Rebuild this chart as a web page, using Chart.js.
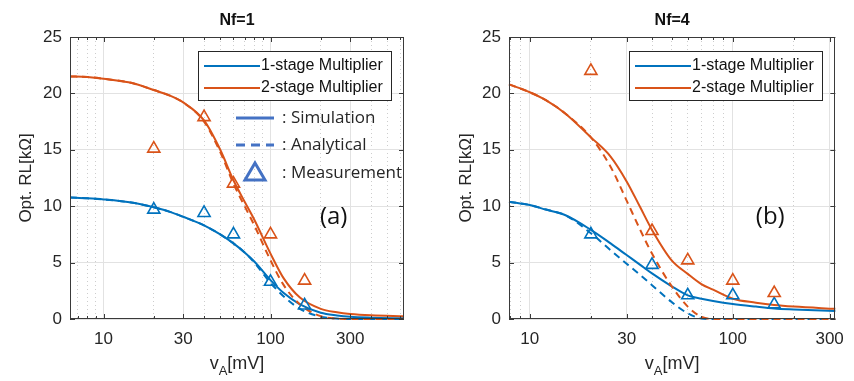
<!DOCTYPE html>
<html>
<head>
<meta charset="utf-8">
<script src="https://cdn.jsdelivr.net/npm/chart.js@4.4.1/dist/chart.umd.min.js"></script>
<style>
html, body { margin: 0; padding: 0; background: #fff; }
#wrap { display: flex; width: 854px; height: 381px; }
canvas { display: block; }
</style>
</head>
<body>
<div id="wrap">
    <canvas id="nf1" width="427" height="381"></canvas>
    <canvas id="nf4" width="427" height="381"></canvas>
</div>
<script>
const BLUE = '#0072BD';
const ORANGE = '#D95319';
const KEY_BLUE = '#4472C4';
const FONT = "'Liberation Sans', Arial, sans-serif";

// tick values on the v_A axis
const x_labels = [10, 30, 100, 300];
const nf1_gridx = [7, 8, 9, 10, 20, 30, 40, 50, 60, 70, 80, 90, 100, 200, 300, 400, 500, 600];
const nf4_gridx = [8, 9, 10, 20, 30, 40, 50, 60, 70, 80, 90, 100, 200, 300];

// Nf=1 curves (v_A in mV, RL in kOhm)
const nf1_x     = [6.3, 8, 10, 15, 20, 25, 30, 40, 50, 60, 70, 80, 100, 120, 150, 200, 250, 300, 400, 630];
const nf1_sim_1 = [10.77, 10.7, 10.6, 10.3, 9.9, 9.5, 9.06, 8.3, 7.5, 6.7, 5.9, 5.1, 3.45, 2.3, 1.3, 0.56, 0.32, 0.2, 0.12, 0.06];
const nf1_ana_1 = [10.77, 10.7, 10.6, 10.3, 9.9, 9.5, 9.06, 8.3, 7.5, 6.7, 5.9, 5.0, 3.2, 2.0, 0.9, 0.2, 0.04, 0, 0, 0];
const nf1_sim_2 = [21.5, 21.45, 21.3, 20.9, 20.3, 19.8, 19.2, 17.6, 15.0, 12.3, 10.4, 8.8, 5.8, 3.6, 1.9, 0.9, 0.6, 0.45, 0.33, 0.25];
const nf1_ana_2 = [21.5, 21.45, 21.3, 20.9, 20.3, 19.8, 19.2, 17.5, 14.8, 12.0, 10.0, 8.3, 5.2, 3.0, 1.3, 0.25, 0.03, 0, 0, 0];
const nf1_meas_x = [20, 40, 60, 100, 160];
const nf1_meas_1 = [9.7, 9.4, 7.5, 3.3, 1.2];
const nf1_meas_2 = [15.1, 17.9, 12.0, 7.5, 3.4];

// Nf=4 curves
const nf4_x     = [7.9, 10, 12, 15, 20, 25, 30, 35, 40, 50, 60, 70, 80, 100, 130, 160, 200, 320];
const nf4_sim_1 = [10.4, 10.1, 9.7, 9.2, 7.9, 6.7, 5.67, 4.8, 4.04, 2.9, 2.1, 1.8, 1.6, 1.33, 1.1, 0.94, 0.85, 0.7];
const nf4_ana_1 = [10.4, 10.1, 9.7, 9.2, 7.6, 6.1, 4.9, 3.9, 3.0, 1.5, 0.5, 0.05, 0, 0, 0, 0, 0, 0];
const nf4_sim_2 = [20.8, 20.1, 19.4, 18.2, 16.1, 14.4, 12.2, 9.9, 7.9, 5.2, 4.0, 3.1, 2.6, 1.8, 1.45, 1.24, 1.1, 0.9];
const nf4_ana_2 = [20.8, 20.1, 19.4, 18.2, 16.1, 13.5, 10.5, 7.9, 5.8, 2.9, 1.1, 0.2, 0, 0, 0, 0, 0, 0];
const nf4_meas_x = [20, 40, 60, 100, 160];
const nf4_meas_1 = [7.5, 4.8, 2.1, 2.1, 1.3];
const nf4_meas_2 = [22.0, 7.8, 5.2, 3.4, 2.3];

function pts(xs, ys) {
    return xs.map((x, i) => ({x: x, y: ys[i]}));
}

function line_ds(xs, ys, color, dashed, order) {
    return {
        data: pts(xs, ys),
        showLine: true,
        borderColor: color,
        borderWidth: 2,
        borderDash: dashed ? [7, 5] : [],
        pointRadius: 0,
        cubicInterpolationMode: 'monotone',
        fill: false,
        clip: 4,
        order: order
    };
}

function meas_ds(xs, ys, color) {
    return {
        data: pts(xs, ys),
        showLine: false,
        pointStyle: 'triangle',
        pointRadius: 7,
        borderColor: color,
        backgroundColor: 'rgba(0,0,0,0)',
        borderWidth: 1.6,
        order: 0,
        clip: false
    };
}

//axes box, inside ticks, titles, legend and key
function make_decor(cfg) {
    return {
        id: 'decor',
        afterDatasetsDraw(chart) {
            const {ctx, chartArea: a, scales: {x, y}} = chart;
            ctx.save();
            ctx.strokeStyle = '#3a3a3a';
            ctx.lineWidth = 1;
            ctx.strokeRect(Math.round(a.left) + .5, Math.round(a.top) + .5,
                Math.round(a.right - a.left) - 1, Math.round(a.bottom - a.top) - 1);
            ctx.beginPath();
            cfg.gridx.forEach(v => {
                const px = Math.round(x.getPixelForValue(v)) + .5;
                const len = x_labels.includes(v) ? 5 : 3;
                ctx.moveTo(px, a.bottom); ctx.lineTo(px, a.bottom - len);
                ctx.moveTo(px, a.top); ctx.lineTo(px, a.top + len);
            });
            y.ticks.forEach(t => {
                const py = Math.round(y.getPixelForValue(t.value)) + .5;
                ctx.moveTo(a.left, py); ctx.lineTo(a.left + 5, py);
                ctx.moveTo(a.right, py); ctx.lineTo(a.right - 5, py);
            });
            ctx.stroke();
            ctx.restore();
        },
        afterDraw(chart) {
            const {ctx, chartArea: a, scales: {x, y}} = chart;
            const cx = (a.left + a.right) / 2;
            ctx.save();
            ctx.textBaseline = 'middle';

            // title
            ctx.fillStyle = '#111';
            ctx.font = 'bold 16px ' + FONT;
            ctx.textAlign = 'center';
            ctx.fillText(cfg.title, cx, 21);

            // panel tag
            ctx.font = "24px 'Open Sans', sans-serif";
            ctx.fillText(cfg.tag, x.getPixelForValue(cfg.tag_x), y.getPixelForValue(cfg.tag_y));

            // x axis title with subscript
            ctx.fillStyle = '#262626';
            ctx.textAlign = 'left';
            ctx.font = '18px ' + FONT;
            const w1 = ctx.measureText('v').width;
            const w3 = ctx.measureText('[mV]').width;
            ctx.font = '13px ' + FONT;
            const w2 = ctx.measureText('A').width;
            let xx = cx - (w1 + w2 + w3) / 2;
            const yy = 364;
            ctx.font = '18px ' + FONT;
            ctx.fillText('v', xx, yy);
            ctx.font = '13px ' + FONT;
            ctx.fillText('A', xx + w1, yy + 7);
            ctx.font = '18px ' + FONT;
            ctx.fillText('[mV]', xx + w1 + w2, yy);

            // legend box
            const x0 = Math.round(a.right) - 206, y0 = Math.round(a.top) + 14;
            ctx.fillStyle = '#fff';
            ctx.fillRect(x0, y0, 193, 49);
            ctx.strokeStyle = '#262626';
            ctx.lineWidth = 1;
            ctx.strokeRect(x0 + .5, y0 + .5, 193, 49);
            [['1-stage Multiplier', BLUE, 15], ['2-stage Multiplier', ORANGE, 37]].forEach(([lab, col, dy]) => {
                ctx.strokeStyle = col;
                ctx.lineWidth = 2;
                ctx.beginPath();
                ctx.moveTo(x0 + 6, y0 + dy); ctx.lineTo(x0 + 62, y0 + dy);
                ctx.stroke();
                ctx.fillStyle = '#111';
                ctx.font = '16px ' + FONT;
                ctx.fillText(lab, x0 + 63, y0 + dy);
            });

            if (cfg.key) {
                ctx.strokeStyle = KEY_BLUE;
                ctx.lineWidth = 3;
                ctx.beginPath();
                ctx.moveTo(x0 + 38, 118); ctx.lineTo(x0 + 76, 118);
                ctx.stroke();
                ctx.setLineDash([9, 6]);
                ctx.beginPath();
                ctx.moveTo(x0 + 38, 145); ctx.lineTo(x0 + 76, 145);
                ctx.stroke();
                ctx.setLineDash([]);
                ctx.beginPath();
                ctx.moveTo(x0 + 57, 163); ctx.lineTo(x0 + 67, 180); ctx.lineTo(x0 + 47, 180);
                ctx.closePath();
                ctx.stroke();
                ctx.fillStyle = '#262626';
                ctx.font = "17px 'Open Sans', sans-serif";
                ctx.fillText(': Simulation', x0 + 84, 118);
                ctx.fillText(': Analytical', x0 + 84, 145);
                ctx.fillText(': Measurement', x0 + 84, 173);
            }
            ctx.restore();
        }
    };
}

function make_chart(id, cfg) {
    const datasets = [
        line_ds(cfg.x, cfg.sim_2, ORANGE, false, 1),
        line_ds(cfg.x, cfg.ana_2, ORANGE, true, 2),
        line_ds(cfg.x, cfg.sim_1, BLUE, false, 3),
        line_ds(cfg.x, cfg.ana_1, BLUE, true, 4),
        meas_ds(cfg.meas_x, cfg.meas_2, ORANGE),
        meas_ds(cfg.meas_x, cfg.meas_1, BLUE)
    ];

    const options = {
        responsive: false,
        animation: false,
        layout: {padding: {top: 37, right: cfg.pad_right, bottom: 0, left: 0}},
        plugins: {legend: {display: false}, tooltip: {enabled: false}, title: {display: false}},
        scales: {
            x: {
                type: 'logarithmic',
                min: cfg.xmin,
                max: cfg.xmax,
                afterBuildTicks: s => { s.ticks = cfg.gridx.map(v => ({value: v})); },
                afterFit: s => { s.height = 62; },
                ticks: {
                    autoSkip: false, maxRotation: 0, minRotation: 0, padding: 10,
                    color: '#262626', font: {size: 17, family: FONT},
                    callback: v => x_labels.includes(v) ? String(v) : ''
                },
                grid: {
                    drawTicks: false,
                    lineWidth: 1,
                    color: c => x_labels.includes(c.tick.value) ? '#e2e2e2' : '#cdcdcd'
                },
                border: {
                    display: false,
                    dash: c => x_labels.includes(c.tick.value) ? [] : [1, 3]
                }
            },
            y: {
                min: 0,
                max: 25,
                afterFit: s => { s.width = cfg.ywidth; },
                ticks: {stepSize: 5, padding: 8, color: '#262626', font: {size: 17, family: FONT}},
                grid: {drawTicks: false, color: '#e2e2e2'},
                border: {display: false},
                title: {
                    display: true, text: 'Opt. RL[kΩ]', color: '#262626',
                    font: {size: 17, family: FONT}, padding: {top: cfg.ytitle_pad, bottom: 0}
                }
            }
        }
    };

    return new Chart(document.getElementById(id), {
        type: 'scatter',
        data: {datasets: datasets},
        options: options,
        plugins: [make_decor(cfg)]
    });
}

make_chart('nf1', {
    title: 'Nf=1', tag: '(a)', tag_x: 239, tag_y: 9, key: true,
    x: nf1_x, sim_1: nf1_sim_1, ana_1: nf1_ana_1, sim_2: nf1_sim_2, ana_2: nf1_ana_2,
    meas_x: nf1_meas_x, meas_1: nf1_meas_1, meas_2: nf1_meas_2,
    xmin: 6.3, xmax: 630, gridx: nf1_gridx,
    ywidth: 70, ytitle_pad: 16, pad_right: 23
});

make_chart('nf4', {
    title: 'Nf=4', tag: '(b)', tag_x: 153, tag_y: 9, key: false,
    x: nf4_x, sim_1: nf4_sim_1, ana_1: nf4_ana_1, sim_2: nf4_sim_2, ana_2: nf4_ana_2,
    meas_x: nf4_meas_x, meas_1: nf4_meas_1, meas_2: nf4_meas_2,
    xmin: 7.9, xmax: 320, gridx: nf4_gridx,
    ywidth: 82, ytitle_pad: 29, pad_right: 10
});
</script>
</body>
</html>
